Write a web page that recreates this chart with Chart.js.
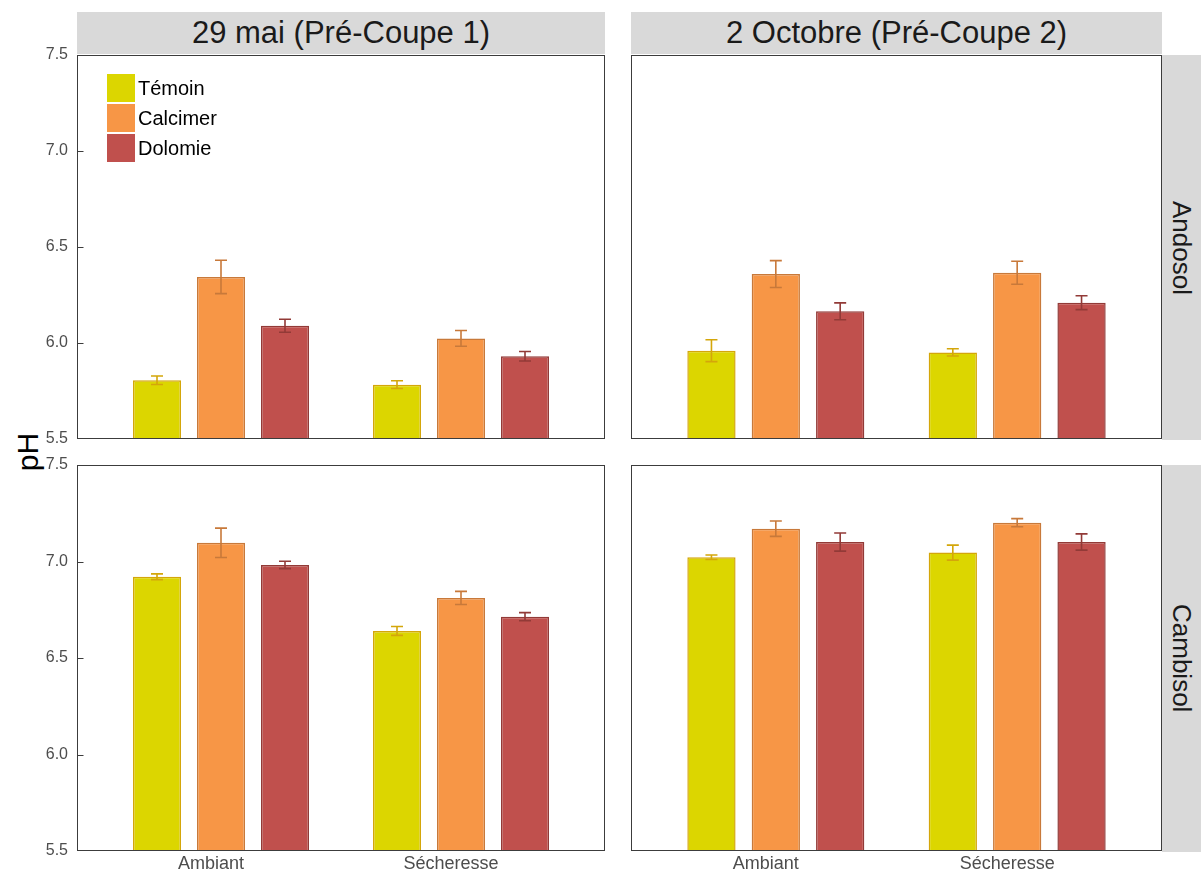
<!DOCTYPE html>
<html>
<head>
<meta charset="utf-8">
<script src="https://cdn.jsdelivr.net/npm/chart.js@4"></script>
<style>
  html, body { margin: 0; padding: 0; background: #fff; }
  #wrap { position: relative; width: 1201px; height: 874px; overflow: hidden; font-family: "Liberation Sans", Arial, sans-serif; }
  canvas { position: absolute; }
  .strip { position: absolute; background: #d9d9d9; color: #1a1a1a; display: flex; align-items: center; justify-content: center; }
  .top { font-size: 31px; }
  .side { font-size: 26px; writing-mode: vertical-rl; }
  #ylab { position: absolute; left: 28px; top: 452px; transform: translate(-50%, -50%) rotate(-90deg); font-size: 30px; color: #000; white-space: nowrap; }
</style>
</head>
<body>
<div id="wrap">
  <div class="strip top" style="left:77px;top:12px;width:528px;height:42px;">29 mai (Pré-Coupe 1)</div>
  <div class="strip top" style="left:631px;top:12px;width:531px;height:42px;">2 Octobre (Pré-Coupe 2)</div>
  <div class="strip side" style="left:1162px;top:55px;width:39px;height:385px;">Andosol</div>
  <div class="strip side" style="left:1162px;top:465px;width:39px;height:387px;">Cambisol</div>
  <div id="ylab">pH</div>
  <canvas id="tl" width="612" height="400" style="left:0px;top:45px;"></canvas>
  <canvas id="tr" width="545" height="400" style="left:620px;top:45px;"></canvas>
  <canvas id="bl" width="612" height="419" style="left:0px;top:455px;"></canvas>
  <canvas id="br" width="545" height="419" style="left:620px;top:455px;"></canvas>
</div>
<script>
// ---- data ----
const categories = ['Ambiant', 'Sécheresse'];
const treatments = ['Témoin', 'Calcimer', 'Dolomie'];
const yTicks = [5.5, 6.0, 6.5, 7.0, 7.5];

// means per treatment [Ambiant, Sécheresse]
const andosolMai   = [[5.806, 5.783], [6.344, 6.024], [6.090, 5.931]];
const andosolMaiSE = [[0.022, 0.020], [0.087, 0.041], [0.034, 0.025]];
const andosolOct   = [[5.960, 5.951], [6.359, 6.366], [6.165, 6.210]];
const andosolOctSE = [[0.057, 0.019], [0.070, 0.060], [0.044, 0.036]];
const cambisolMai   = [[6.921, 6.640], [7.097, 6.811], [6.982, 6.714]];
const cambisolMaiSE = [[0.015, 0.023], [0.076, 0.034], [0.019, 0.021]];
const cambisolOct   = [[7.022, 7.046], [7.170, 7.201], [7.101, 7.101]];
const cambisolOctSE = [[0.012, 0.039], [0.040, 0.021], [0.047, 0.042]];

const fillColors = ['#dcd600', '#f79646', '#c0504d'];
const lineColors = ['#d4a60a', '#c8793a', '#923a37'];

const panelPlugin = {
  id: 'panel',
  afterDatasetsDraw(chart) {
    const ctx = chart.ctx;
    const y = chart.scales.y;
    chart.data.datasets.forEach((ds, i) => {
      const meta = chart.getDatasetMeta(i);
      meta.data.forEach((bar, j) => {
        const m = ds.data[j].y, e = ds.errors[j];
        const yTop = y.getPixelForValue(m + e), yBot = y.getPixelForValue(m - e);
        const cap = 6;
        ctx.save();
        ctx.strokeStyle = ds.errColor;
        ctx.lineWidth = 1.6;
        ctx.beginPath();
        ctx.moveTo(bar.x, yTop); ctx.lineTo(bar.x, yBot);
        ctx.moveTo(bar.x - cap, yTop); ctx.lineTo(bar.x + cap, yTop);
        ctx.moveTo(bar.x - cap, yBot); ctx.lineTo(bar.x + cap, yBot);
        ctx.stroke();
        ctx.restore();
      });
    });
  },
  afterDraw(chart) {
    const ctx = chart.ctx;
    const a = chart.chartArea;
    const o = chart.options.plugins.panel || {};
    ctx.save();
    ctx.strokeStyle = '#3c3c3c';
    ctx.lineWidth = 1;
    const l = Math.round(a.left) + 0.5, t = Math.round(a.top) + 0.5;
    const r = Math.round(a.right) - 0.5, b = Math.round(a.bottom) - 0.5;
    ctx.strokeRect(l, t, r - l, b - t);
    if (o.inTicks) {
      const y = chart.scales.y;
      ctx.beginPath();
      yTicks.forEach(v => {
        const py = Math.min(Math.round(y.getPixelForValue(v)) + 0.5, b);
        ctx.moveTo(l, py); ctx.lineTo(l + 6, py);
      });
      ctx.stroke();
    }
    if (o.legend) {
      ctx.font = '20px "Liberation Sans", Arial, sans-serif';
      ctx.textBaseline = 'middle';
      ctx.textAlign = 'left';
      chart.data.datasets.forEach((ds, i) => {
        const sx = a.left + 30, sy = a.top + 19 + i * 30;
        ctx.fillStyle = ds.backgroundColor;
        ctx.fillRect(sx, sy, 28, 28);
        ctx.fillStyle = '#000';
        ctx.fillText(ds.label, sx + 31, sy + 15);
      });
    }
    ctx.restore();
  }
};

function makePanel(id, means, errs, o) {
  const datasets = treatments.map((name, i) => ({
    label: name,
    data: categories.map((c, j) => ({ x: j + 1, y: means[i][j] })),
    errors: errs[i],
    errColor: lineColors[i],
    backgroundColor: fillColors[i],
    borderColor: lineColors[i],
    borderWidth: 1.5,
    base: 5.5,
    categoryPercentage: 0.8,
    barPercentage: 0.75
  }));
  return new Chart(document.getElementById(id), {
    type: 'bar',
    data: { datasets },
    plugins: [panelPlugin],
    options: {
      responsive: false,
      animation: false,
      devicePixelRatio: 1,
      layout: { padding: o.padding },
      plugins: {
        legend: { display: false },
        tooltip: { enabled: false },
        panel: { inTicks: o.showY, legend: o.legend }
      },
      scales: {
        x: {
          type: 'linear',
          min: 0.4, max: 2.6,
          offset: false,
          grid: { display: false, drawTicks: false, tickLength: 0 },
          border: { display: false },
          afterBuildTicks: s => { s.ticks = categories.map((c, j) => ({ value: j + 1 })); },
          afterFit: s => { s.height = o.showX ? 23 : 0; s.paddingLeft = 0; s.paddingRight = 0; },
          ticks: {
            display: o.showX,
            autoSkip: false, maxRotation: 0,
            padding: 2,
            labelOffset: -10,
            color: '#4d4d4d',
            font: { size: 18, family: '"Liberation Sans", Arial, sans-serif' },
            callback: v => categories[Math.round(v) - 1] || ''
          }
        },
        y: {
          type: 'linear',
          min: 5.5, max: 7.5,
          beginAtZero: false,
          display: o.showY,
          grid: { display: false, drawTicks: false, tickLength: 0 },
          border: { display: false },
          afterBuildTicks: s => { s.ticks = yTicks.map(v => ({ value: v })); },
          afterFit: s => { s.width = o.showY ? 77 : 0; s.paddingTop = 0; s.paddingBottom = 0; },
          ticks: {
            padding: 9,
            color: '#4d4d4d',
            font: { size: 16, family: '"Liberation Sans", Arial, sans-serif' },
            callback: v => Number(v).toFixed(1)
          }
        }
      }
    }
  });
}

makePanel('tl', andosolMai, andosolMaiSE, { showY: true, showX: false, legend: true, padding: { left: 0, top: 10, right: 7, bottom: 6 } });
makePanel('tr', andosolOct, andosolOctSE, { showY: false, showX: false, legend: false, padding: { left: 11, top: 10, right: 3, bottom: 6 } });
makePanel('bl', cambisolMai, cambisolMaiSE, { showY: true, showX: true, legend: false, padding: { left: 0, top: 10, right: 7, bottom: 0 } });
makePanel('br', cambisolOct, cambisolOctSE, { showY: false, showX: true, legend: false, padding: { left: 11, top: 10, right: 3, bottom: 0 } });
</script>
</body>
</html>
